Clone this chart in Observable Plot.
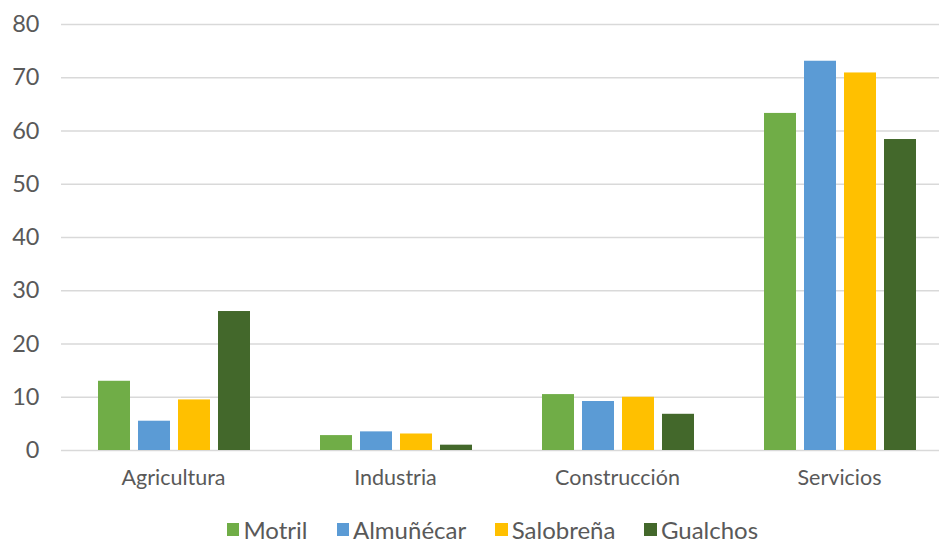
<!DOCTYPE html>
<html>
<head>
<meta charset="utf-8">
<script src="https://cdn.jsdelivr.net/npm/d3@7"></script>
<script src="https://cdn.jsdelivr.net/npm/@observablehq/plot@0.6"></script>
<style>
  html, body { margin: 0; padding: 0; background: #fff; }
  body { width: 939px; height: 539px; overflow: hidden; font-family: Lato, "Open Sans", sans-serif; }
  #chart { position: relative; width: 939px; height: 500px; }
  #chart svg { position: absolute; left: 0; top: 0; }
  #legend { display: flex; justify-content: center; align-items: center; height: 39px; padding-left: 46px; padding-top: 20px;
            box-sizing: border-box; width: 939px;
            font-family: Lato, sans-serif; font-size: 24px; color: #595959; }
  .item { display: flex; align-items: center; margin: 0 14.5px; line-height: 19px; }
  .sw { width: 12.5px; height: 12.5px; margin-right: 4px; }
</style>
</head>
<body>
<div id="chart"></div>
<div id="legend"></div>
<script>
const categories = ["Agricultura", "Industria", "Construcción", "Servicios"];
const series = ["Motril", "Almuñécar", "Salobreña", "Gualchos"];
const colors = ["#70AD47", "#5B9BD5", "#FFC000", "#43682B"];
const motril    = [13.0, 2.8, 10.5, 63.3];
const almunecar = [5.5, 3.5, 9.2, 73.1];
const salobrena = [9.5, 3.1, 10.0, 70.9];
const gualchos  = [26.1, 1.0, 6.8, 58.4];
const yTicks = [0, 10, 20, 30, 40, 50, 60, 70, 80];

const valuesBySeries = [motril, almunecar, salobrena, gualchos];
const data = [];
categories.forEach((c, i) => series.forEach((s, j) => data.push({category: c, series: s, value: valuesBySeries[j][i]})));

const W = 939, H = 500;
const common = {
  width: W, height: H,
  marginTop: 24, marginBottom: 50, marginLeft: 61, marginRight: 0,
  style: {fontFamily: "Lato, sans-serif", color: "#595959", background: "transparent", overflow: "hidden"}
};
const bandRange = [61.25, 951];

const back = Plot.plot({
  ...common,
  y: {domain: [0, 80], label: null},
  x: {domain: categories, range: bandRange, paddingInner: 0.3125, paddingOuter: 0.15625, label: null},
  marks: [
    Plot.ruleY(yTicks, {stroke: "#d9d9d9", strokeWidth: 1.6}),
    Plot.axisY(yTicks, {tickSize: 0, tickPadding: 22, fontSize: 23.5, fill: "#595959", label: null}),
    Plot.axisX({tickSize: 0, tickPadding: 19, fontSize: 21.5, fill: "#595959", label: null})
  ]
});

const front = Plot.plot({
  ...common,
  y: {domain: [0, 80], axis: null},
  fx: {domain: categories, range: bandRange, paddingInner: 0.3125, paddingOuter: 0.15625, axis: null, label: null},
  x: {domain: series, paddingInner: 0.21, paddingOuter: 0, axis: null},
  color: {domain: series, range: colors},
  marks: [
    Plot.barY(data, {fx: "category", x: "series", y: "value", fill: "series"})
  ]
});

const chart = document.getElementById("chart");
chart.append(back, front);

const legend = document.getElementById("legend");
series.forEach((s, i) => {
  const it = document.createElement("div");
  it.className = "item";
  const sw = document.createElement("div");
  sw.className = "sw";
  sw.style.background = colors[i];
  const t = document.createElement("span");
  t.textContent = s;
  it.append(sw, t);
  legend.append(it);
});
</script>
</body>
</html>
